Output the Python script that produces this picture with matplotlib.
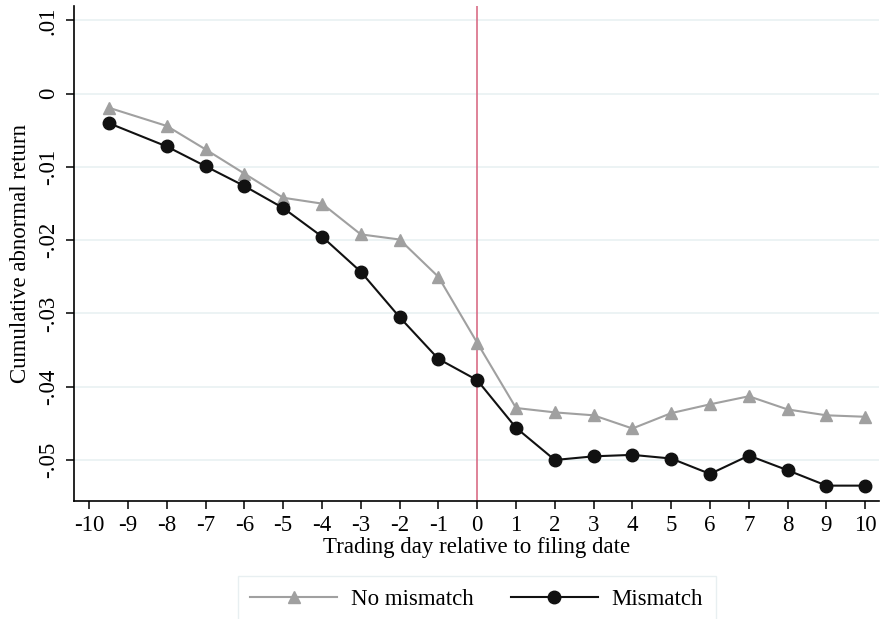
import numpy as np
import matplotlib
matplotlib.use("Agg")
import matplotlib.pyplot as plt

plt.rcParams['font.family'] = ['Liberation Serif', 'DejaVu Serif']

# event-time (first point sits half a day before -9)
days = [-9.5, -8, -7, -6, -5, -4, -3, -2, -1, 0, 1, 2, 3, 4, 5, 6, 7, 8, 9, 10]

no_mismatch = [-0.0019, -0.0044, -0.0076, -0.0109, -0.0142, -0.0150, -0.0192, -0.0199,
               -0.0250, -0.0340, -0.0429, -0.0435, -0.0439, -0.0457, -0.0436, -0.0424,
               -0.0413, -0.0431, -0.0439, -0.0441]
mismatch = [-0.0040, -0.0072, -0.0099, -0.0126, -0.0156, -0.0195, -0.0243, -0.0305,
            -0.0362, -0.0391, -0.0456, -0.0500, -0.0495, -0.0493, -0.0498, -0.0519,
            -0.0494, -0.0514, -0.0535, -0.0535]

xticks = list(range(-10, 11))
yticks = [-0.05, -0.04, -0.03, -0.02, -0.01, 0, 0.01]
ylabels = ['-.05', '-.04', '-.03', '-.02', '-.01', '0', '.01']

fig = plt.figure(figsize=(8.81, 6.19), dpi=100)
ax = fig.add_axes([0.084, 0.1906, 0.914, 0.80])

grid_col = '#eaf2f3'
for y in yticks:
    ax.axhline(y, color=grid_col, lw=1.3, zorder=0)

ax.axvline(0, color='#d6607c', lw=1.1, zorder=1)

ax.plot(days, no_mismatch, color='#a0a0a0', lw=1.5, marker='^', ms=9,
        label='No mismatch', zorder=3)
ax.plot(days, mismatch, color='#111111', lw=1.5, marker='o', ms=9,
        label='Mismatch', zorder=4)

ax.set_xlim(-10.39, 10.36)
ax.set_ylim(-0.0556, 0.0120)
ax.set_xticks(xticks)
ax.set_xticklabels([str(t) for t in xticks])
ax.set_yticks(yticks)
ax.set_yticklabels(ylabels, rotation=90, va='center')

for s in ['top', 'right']:
    ax.spines[s].set_visible(False)
for s in ['left', 'bottom']:
    ax.spines[s].set_linewidth(1.2)
ax.tick_params(axis='both', length=6, width=1.1, labelsize=16.5, pad=4)
ax.tick_params(axis='y', pad=5)

ax.set_xlabel('Trading day relative to filing date', fontsize=16.5, labelpad=1)
ax.set_ylabel('Cumulative abnormal return', fontsize=16.5, labelpad=5)

leg = fig.legend(loc='upper center', bbox_to_anchor=(0.541, 0.0695), ncol=2,
                 fontsize=16.5, frameon=True, fancybox=False, handlelength=3.8,
                 columnspacing=1.6, handletextpad=0.6, borderpad=0.55,
                 borderaxespad=0)
leg.get_frame().set_edgecolor('#e3ecee')
leg.get_frame().set_linewidth(1.0)

fig.savefig('out.png', dpi=100)
